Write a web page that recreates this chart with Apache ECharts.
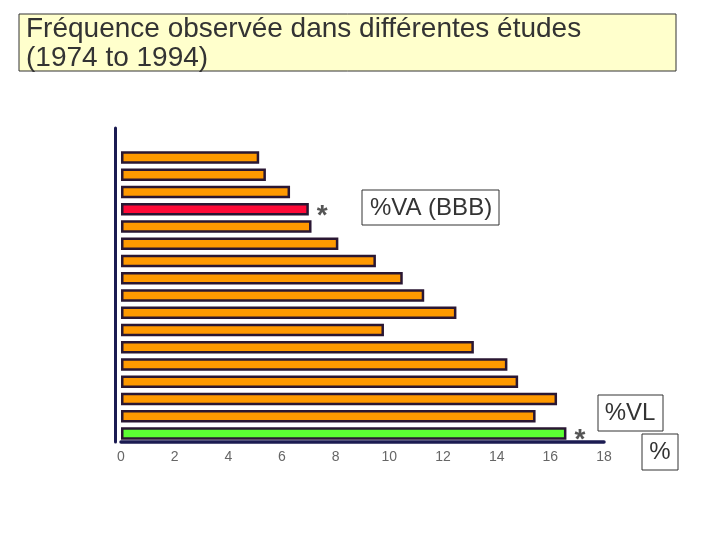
<!DOCTYPE html>
<html>
<head>
<meta charset="utf-8">
<script src="https://cdn.jsdelivr.net/npm/echarts@6/dist/echarts.min.js"></script>
<style>html,body{margin:0;padding:0;background:#fff}#c{width:720px;height:540px}</style>
</head>
<body>
<div id="c"></div>
<script>
const studies = ['Étude 1','Étude 2','Étude 3','Étude 4','Étude 5','Étude 6','Étude 7','Étude 8','Étude 9','Étude 10','Étude 11','Étude 12','Étude 13','Étude 14','Étude 15','Étude 16','Étude 17'];
const frequencies = [5.15, 5.4, 6.3, 7.0, 7.1, 8.1, 9.5, 10.5, 11.3, 12.5, 9.8, 13.15, 14.4, 14.8, 16.25, 15.45, 16.6];
const xTicks = [0, 2, 4, 6, 8, 10, 12, 14, 16, 18];
const highlightVA = 3;   // %VA (BBB)
const highlightVL = 16;  // %VL

const chart = echarts.init(document.getElementById('c'));
const data = frequencies.map((v, i) => {
  const item = { value: v };
  if (i === highlightVA) {
    item.itemStyle = { color: '#FF0A38' };
    item.label = { show: true };
  } else if (i === highlightVL) {
    item.itemStyle = { color: '#5CFF33' };
    item.label = { show: true };
  }
  return item;
});

chart.setOption({
  animation: false,
  grid: [
    { left: 121, right: 116, top: 149, bottom: 98 },
    { left: 115, right: 116, top: 128, bottom: 98 }
  ],
  xAxis: [
    {
      gridIndex: 0, type: 'value', min: 0, max: 18, interval: 2,
      axisLine: { show: true, lineStyle: { color: '#1B1B52', width: 3.5 } },
      axisTick: { show: false },
      splitLine: { show: false },
      axisLabel: { color: '#666', fontSize: 14, fontFamily: 'Liberation Sans', margin: 8,
        formatter: v => xTicks.includes(v) ? String(v) : '' }
    },
    { gridIndex: 1, type: 'value', show: false, min: 0, max: 18 }
  ],
  yAxis: [
    {
      gridIndex: 0, type: 'category', data: studies, inverse: true,
      axisLine: { show: false }, axisTick: { show: false }, axisLabel: { show: false }
    },
    {
      gridIndex: 1, type: 'value', min: 0, max: 1,
      axisLine: { show: true, lineStyle: { color: '#1B1B52', width: 3 } },
      axisTick: { show: false }, axisLabel: { show: false }, splitLine: { show: false }
    }
  ],
  series: [{
    type: 'bar', xAxisIndex: 0, yAxisIndex: 0,
    data: data, barWidth: 12.5,
    itemStyle: { color: '#FF9900', borderColor: '#2A1733', borderWidth: 2.5 },
    label: {
      show: false, position: 'right', distance: 8, formatter: '*',
      color: '#555', fontSize: 28, fontWeight: 'bold', fontFamily: 'Liberation Sans', offset: [0, 7]
    }
  }],
  graphic: [
    { type: 'rect', shape: { x: 19, y: 14, width: 657, height: 57 },
      style: { fill: '#FFFFCC', stroke: '#333', lineWidth: 1 } },
    { type: 'text', left: 26, top: 15,
      style: { text: 'Fréquence observée dans différentes études\n(1974 to 1994)', fill: '#333',
        font: '28px "Liberation Sans"', lineHeight: 29 } },
    { type: 'rect', shape: { x: 362, y: 190, width: 137, height: 35 },
      style: { fill: '#fff', stroke: '#333', lineWidth: 1 } },
    { type: 'text', x: 431, y: 208,
      style: { text: '%VA (BBB)', fill: '#333', font: '24px "Liberation Sans"', align: 'center', verticalAlign: 'middle' } },
    { type: 'rect', shape: { x: 598, y: 395, width: 65, height: 36 },
      style: { fill: '#fff', stroke: '#333', lineWidth: 1 } },
    { type: 'text', x: 630, y: 413,
      style: { text: '%VL', fill: '#333', font: '24px "Liberation Sans"', align: 'center', verticalAlign: 'middle' } },
    { type: 'rect', shape: { x: 642, y: 434, width: 36, height: 36 },
      style: { fill: '#fff', stroke: '#333', lineWidth: 1 } },
    { type: 'text', x: 660, y: 452,
      style: { text: '%', fill: '#333', font: '24px "Liberation Sans"', align: 'center', verticalAlign: 'middle' } }
  ]
});
</script>
</body>
</html>
